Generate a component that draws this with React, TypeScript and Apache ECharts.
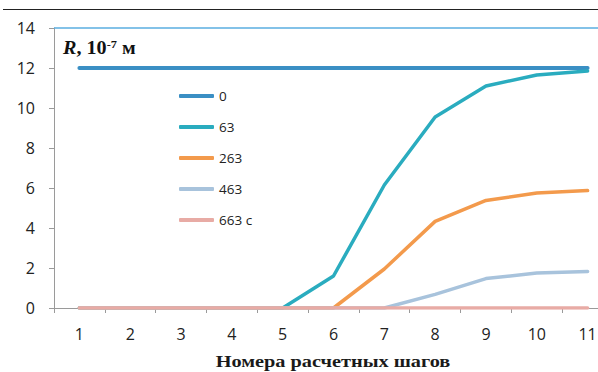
import React, { useEffect, useRef } from "react";
import * as echarts from "echarts";

// Номера расчетных шагов
const steps = ["1", "2", "3", "4", "5", "6", "7", "8", "9", "10", "11"];

// Радиус R, 10^-7 м, для разных моментов времени
const seriesNames = ["0", "63", "263", "463", "663 с"];
const r0 = [12, 12, 12, 12, 12, 12, 12, 12, 12, 12, 12];
const r63 = [0, 0, 0, 0, 0, 1.6, 6.15, 9.55, 11.1, 11.65, 11.85];
const r263 = [0, 0, 0, 0, 0, 0, 1.95, 4.33, 5.38, 5.75, 5.87];
const r463 = [0, 0, 0, 0, 0, 0, 0, 0.68, 1.47, 1.75, 1.83];
const r663 = [0, 0, 0, 0, 0, 0, 0, 0, 0, 0, 0];

const yTicks = { min: 0, max: 14, interval: 2 };
const colors = ["#3a8fc4", "#2aacbf", "#f39a4c", "#a8c3dc", "#e8aba5"];

export default function App() {
  const ref = useRef<HTMLDivElement>(null);

  useEffect(() => {
    if (!ref.current) return;
    const chart = echarts.init(ref.current, undefined, { renderer: "svg" });
    const data = [r0, r63, r263, r463, r663];
    const labelFont = "'Open Sans', 'Noto Sans', sans-serif";
    const serif = "'Liberation Serif', 'DejaVu Serif', serif";

    chart.setOption({
      animation: false,
      backgroundColor: "#ffffff",
      // the plot runs a little past the right edge of the visible frame
      grid: { left: 54, right: 7, top: 28, bottom: 64, containLabel: false },
      legend: {
        orient: "vertical",
        left: 174,
        top: 84,
        itemWidth: 35,
        itemHeight: 4,
        itemGap: 17,
        icon: "roundRect",
        data: seriesNames,
        textStyle: {
          fontFamily: labelFont,
          fontSize: 13.5,
          color: "#222",
        },
      },
      xAxis: {
        type: "category",
        data: steps,
        boundaryGap: true,
        axisLine: { show: true, lineStyle: { color: "#9a9a9a", width: 1 } },
        axisTick: { show: true, length: 5, interval: 0, lineStyle: { color: "#9a9a9a" } },
        axisLabel: { fontFamily: labelFont, fontSize: 16, color: "#222", margin: 18, interval: 0 },
      },
      yAxis: {
        type: "value",
        min: yTicks.min,
        max: yTicks.max,
        interval: yTicks.interval,
        axisLine: { show: true, lineStyle: { color: "#9a9a9a", width: 1 } },
        axisTick: { show: true, length: 5, lineStyle: { color: "#9a9a9a" } },
        axisLabel: { fontFamily: labelFont, fontSize: 16, color: "#222", margin: 19 },
        splitLine: { show: false },
      },
      series: data.map((d, i) => ({
        name: seriesNames[i],
        type: "line",
        data: d,
        symbol: "none",
        color: colors[i],
        lineStyle: { width: i === 0 ? 4 : 3.5, color: colors[i], cap: "round" },
        z: 2 + i,
        markLine:
          i === 0
            ? {
                silent: true,
                symbol: "none",
                label: { show: false },
                lineStyle: { color: "#5aaee0", width: 1.5, type: "solid" },
                data: [{ yAxis: yTicks.max }],
              }
            : undefined,
      })),
      graphic: [
        {
          type: "line",
          shape: { x1: 3, y1: 9.5, x2: 598, y2: 9.5 },
          style: { stroke: "#222", lineWidth: 1 },
          silent: true,
        },
        // axis caption, set in a widened serif face
        {
          type: "text",
          x: 333,
          y: 361,
          scaleX: 1.16,
          style: {
            text: "Номера расчетных шагов",
            fontFamily: serif,
            fontWeight: "bold",
            fontSize: 17.5,
            fill: "#1a1a1a",
            align: "center",
            verticalAlign: "middle",
          },
        },
        // quantity and unit
        {
          type: "text",
          x: 63,
          y: 48,
          scaleX: 1.12,
          style: {
            text: "{r|R}{b|, 10}{s|-7}{b| м}",
            verticalAlign: "middle",
            rich: {
              r: {
                fontFamily: serif,
                fontSize: 18,
                fontWeight: "bold",
                fontStyle: "italic",
                fill: "#111",
                verticalAlign: "bottom",
              },
              b: {
                fontFamily: serif,
                fontSize: 18,
                fontWeight: "bold",
                fill: "#111",
                verticalAlign: "bottom",
              },
              s: {
                fontFamily: serif,
                fontSize: 11,
                fontWeight: "bold",
                fill: "#111",
                verticalAlign: "top",
              },
            },
          },
        },
      ],
    });

    return () => chart.dispose();
  }, []);

  return (
    <div
      style={{
        position: "fixed",
        left: 0,
        top: 0,
        width: 598,
        height: 372,
        overflow: "hidden",
        background: "#fff",
      }}
    >
      <div ref={ref} style={{ width: 620, height: 372 }} />
    </div>
  );
}
